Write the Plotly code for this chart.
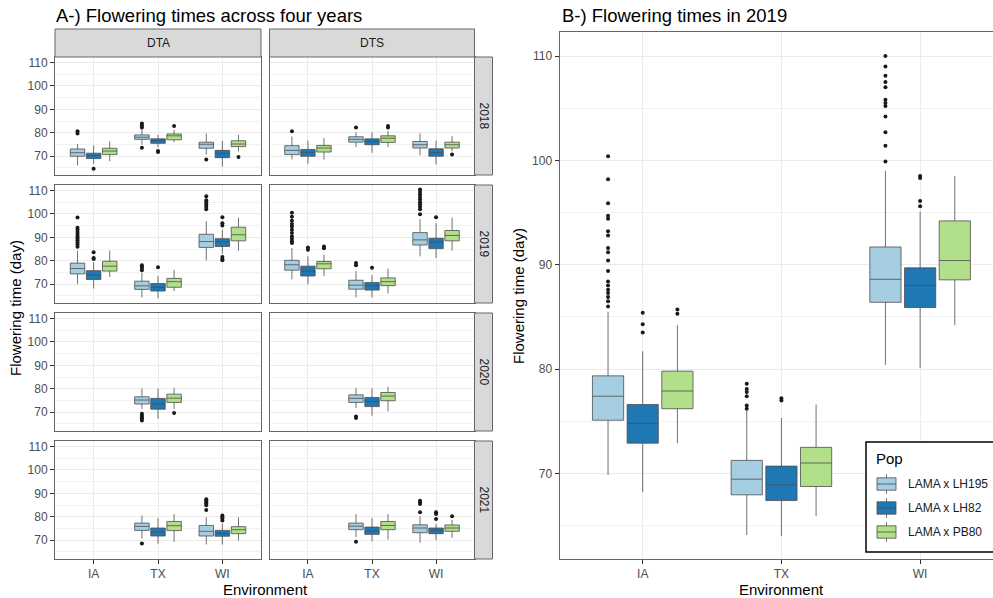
import plotly.graph_objects as go

# ---------------- data ----------------
ENVS = ["IA", "TX", "WI"]
POP_KEYS = ["LH195", "LH82", "PB80"]
POP_LABELS = ["LAMA x LH195", "LAMA x LH82", "LAMA x PB80"]
POP_COLORS = ["#A6CEE3", "#1F78B4", "#B2DF8A"]
TRAITS = ["DTA", "DTS"]
YEARS = ["2018", "2019", "2020", "2021"]
Y_TICKS = [70, 80, 90, 100, 110]

# rows: (env, pop, lower whisker, q1, median, q3, upper whisker, outliers)
DTA_2018 = [
    ("IA", "LH195", 66.1, 70.0, 71.5, 73.1, 75.2, [79.7, 80.7]),
    ("IA", "LH82", 66.8, 69.0, 70.3, 71.3, 74.6, [64.7]),
    ("IA", "PB80", 67.9, 70.7, 72.2, 73.4, 76.3, []),
    ("TX", "LH195", 74.9, 77.2, 78.1, 79.1, 81.4, [82.2, 83.1, 83.9, 73.6]),
    ("TX", "LH82", 73.8, 75.5, 76.6, 77.4, 79.1, [71.8, 72.2]),
    ("TX", "PB80", 76.0, 77.0, 78.7, 79.5, 81.2, [82.9]),
    ("WI", "LH195", 70.7, 73.4, 75.1, 76.0, 79.7, [68.6]),
    ("WI", "LH82", 65.6, 69.4, 71.3, 72.5, 76.5, []),
    ("WI", "PB80", 72.1, 74.1, 75.2, 76.6, 79.1, [69.7]),
]
DTS_2018 = [
    ("IA", "LH195", 68.6, 70.7, 72.5, 74.5, 78.4, [80.7]),
    ("IA", "LH82", 66.8, 70.0, 71.7, 72.9, 76.7, []),
    ("IA", "PB80", 68.6, 71.8, 73.5, 74.6, 77.7, []),
    ("TX", "LH195", 73.9, 76.0, 77.2, 78.3, 80.2, [82.2]),
    ("TX", "LH82", 71.5, 74.9, 76.3, 77.4, 80.2, []),
    ("TX", "PB80", 73.9, 75.9, 77.7, 78.7, 80.8, [82.2, 82.9]),
    ("WI", "LH195", 70.4, 73.5, 74.9, 76.3, 79.7, []),
    ("WI", "LH82", 66.5, 70.0, 71.5, 73.2, 76.6, []),
    ("WI", "PB80", 72.1, 73.5, 74.9, 76.0, 78.6, [70.7]),
]
DTA_2019 = [
    ("IA", "LH195", 70.0, 74.4, 76.7, 79.0, 84.3,
     [98.4, 94.1, 93.2, 92.3, 91.4, 90.5, 89.6, 88.7, 87.8, 86.9, 86.0]),
    ("IA", "LH82", 68.2, 72.0, 73.9, 75.8, 79.4, [83.6, 81.2, 80.8]),
    ("IA", "PB80", 73.1, 75.6, 77.7, 79.8, 84.3, []),
    ("TX", "LH195", 64.4, 67.8, 69.3, 71.3, 74.9, [78.1, 77.5, 76.9, 76.0]),
    ("TX", "LH82", 64.0, 67.1, 68.7, 70.3, 73.5, [77.2]),
    ("TX", "PB80", 67.1, 68.7, 71.1, 72.5, 76.0, []),
    ("WI", "LH195", 80.2, 85.7, 88.2, 91.3, 96.9, [107.5, 105.8, 104.8, 104.0, 103.0, 102.0]),
    ("WI", "LH82", 83.0, 86.1, 88.1, 89.4, 93.2, [98.6, 96.0, 95.0, 81.6, 80.8, 80.2]),
    ("WI", "PB80", 84.3, 88.5, 91.1, 94.3, 98.4, []),
]
DTS_2019 = [
    ("IA", "LH195", 72.1, 76.0, 78.3, 80.2, 85.4,
     [100.5, 98.8, 97.1, 95.7, 94.6, 93.2, 91.8, 90.4, 89.3, 88.3, 87.6]),
    ("IA", "LH82", 70.0, 73.5, 75.6, 77.7, 81.9, [85.7, 84.7]),
    ("IA", "PB80", 73.5, 76.6, 78.7, 79.7, 82.6, [86.1, 85.3]),
    ("TX", "LH195", 64.4, 67.9, 69.6, 71.7, 75.6, [79.1, 78.1]),
    ("TX", "LH82", 64.4, 67.5, 69.4, 70.7, 73.9, [77.0]),
    ("TX", "PB80", 66.1, 69.4, 71.1, 72.7, 76.6, []),
    ("WI", "LH195", 81.9, 86.7, 88.9, 92.0, 97.8,
     [110.4, 109.3, 108.3, 107.2, 106.1, 105.0, 104.0, 103.0, 102.0, 99.8]),
    ("WI", "LH82", 81.2, 85.2, 88.0, 89.6, 96.0, [98.6]),
    ("WI", "PB80", 84.3, 88.5, 90.8, 92.9, 98.4, []),
]
DTA_2020 = [
    ("TX", "LH195", 71.4, 73.5, 75.2, 76.6, 80.1, [69.3, 68.5, 67.9, 67.3, 66.5]),
    ("TX", "LH82", 67.2, 71.3, 73.5, 75.9, 80.1, []),
    ("TX", "PB80", 71.4, 74.2, 76.0, 77.7, 80.4, [69.7]),
]
DTS_2020 = [
    ("TX", "LH195", 71.8, 74.2, 75.9, 77.4, 80.4, [68.2, 67.5]),
    ("TX", "LH82", 68.6, 72.4, 74.6, 76.3, 80.2, []),
    ("TX", "PB80", 70.4, 74.9, 76.9, 78.4, 80.8, []),
]
DTA_2021 = [
    ("TX", "LH195", 70.7, 74.2, 75.9, 77.3, 80.5, [68.6]),
    ("TX", "LH82", 68.5, 71.8, 73.5, 75.2, 79.4, []),
    ("TX", "PB80", 69.3, 74.1, 76.2, 78.0, 81.2, []),
    ("WI", "LH195", 68.2, 71.8, 73.8, 76.3, 79.8, [87.5, 86.9, 86.2, 85.6, 84.9, 82.9]),
    ("WI", "LH82", 68.2, 71.7, 72.9, 74.2, 77.0, [80.5, 79.9, 79.4, 78.4]),
    ("WI", "PB80", 69.9, 72.8, 74.5, 75.8, 79.8, []),
]
DTS_2021 = [
    ("TX", "LH195", 71.4, 74.5, 76.0, 77.3, 81.2, [69.3]),
    ("TX", "LH82", 69.6, 72.5, 73.9, 75.6, 79.4, []),
    ("TX", "PB80", 70.3, 74.5, 76.3, 78.0, 81.2, []),
    ("WI", "LH195", 68.9, 73.2, 75.2, 76.6, 80.2, [86.8, 86.2, 85.4, 81.9]),
    ("WI", "LH82", 70.0, 72.8, 74.1, 75.2, 76.9, [81.9, 81.2, 79.0]),
    ("WI", "PB80", 71.0, 73.8, 75.2, 76.5, 78.7, [80.2]),
]
B_2019 = [
    ("IA", "LH195", 69.85, 75.1, 77.4, 79.35, 85.5,
     [100.4, 98.2, 95.9, 94.7, 94.4, 93.2, 92.8, 91.6, 91.2, 90.4, 89.4,
      88.4, 88.0, 87.6, 87.3, 86.9, 86.5, 86.0]),
    ("IA", "LH82", 68.2, 72.9, 74.8, 76.6, 81.7, [85.4, 84.3, 83.5]),
    ("IA", "PB80", 72.9, 76.2, 77.9, 79.8, 84.2, [85.7, 85.3]),
    ("TX", "LH195", 64.1, 67.95, 69.45, 71.25, 76.0, [78.6, 78.1, 77.8, 77.4, 76.5, 76.2]),
    ("TX", "LH82", 64.0, 67.4, 68.9, 70.7, 75.3, [77.2, 77.0]),
    ("TX", "PB80", 65.9, 68.75, 71.0, 72.5, 76.6, []),
    ("WI", "LH195", 80.4, 86.4, 88.6, 91.7, 99.0,
     [110.0, 109.0, 108.1, 107.5, 107.0, 105.8, 105.5, 105.2, 104.2, 102.7, 101.4, 99.9]),
    ("WI", "LH82", 80.1, 85.9, 88.0, 89.7, 95.1, [98.5, 98.3, 96.1, 95.6]),
    ("WI", "PB80", 84.2, 88.55, 90.4, 94.2, 98.5, []),
]

LEFT_PANELS = {
    ("DTA", "2018"): DTA_2018, ("DTS", "2018"): DTS_2018,
    ("DTA", "2019"): DTA_2019, ("DTS", "2019"): DTS_2019,
    ("DTA", "2020"): DTA_2020, ("DTS", "2020"): DTS_2020,
    ("DTA", "2021"): DTA_2021, ("DTS", "2021"): DTS_2021,
}

# ---------------- style / layout ----------------
W, H = 993, 598
FONT = "Liberation Sans, Arial, Helvetica, sans-serif"
GRID = "#EBEBEB"
BORDER = "#666666"
BOX_LINE = "#4D4D4D"
TICK_COL = "#4D4D4D"
DODGE = 0.25
BOX_W = 0.225
OFFSETS = [-DODGE, 0.0, DODGE]

LEFT_COLS = [(55, 261), (269.5, 474.5)]
LEFT_ROWS = [(57, 175), (185, 303), (313, 431), (441, 559)]
RIGHT_X = (559.5, 993)
RIGHT_Y = (32, 559)


def xdom(a, b):
    return [a / W, b / W]


def ydom(top, bottom):
    return [1 - bottom / H, 1 - top / H]


fig = go.Figure()
layout = {}


def axis_names(n):
    return ("xaxis" if n == 1 else f"xaxis{n}", "yaxis" if n == 1 else f"yaxis{n}",
            "x" if n == 1 else f"x{n}", "y" if n == 1 else f"y{n}")


def add_boxes(rows, n, marker_size):
    _, _, xr, yr = axis_names(n)
    for pi, pop in enumerate(POP_KEYS):
        sel = [r for r in rows if r[1] == pop]
        if not sel:
            continue
        xs = [ENVS.index(r[0]) + 1 + OFFSETS[pi] for r in sel]
        fig.add_trace(go.Box(
            x=xs, lowerfence=[r[2] for r in sel], q1=[r[3] for r in sel],
            median=[r[4] for r in sel], q3=[r[5] for r in sel],
            upperfence=[r[6] for r in sel], width=BOX_W,
            fillcolor=POP_COLORS[pi], line=dict(color=BOX_LINE, width=0.8),
            whiskerwidth=0, boxpoints=False, xaxis=xr, yaxis=yr,
            showlegend=False, hoverinfo="skip", name=POP_LABELS[pi]))
        ox, oy = [], []
        for r, x in zip(sel, xs):
            for v in r[7]:
                ox.append(x)
                oy.append(v)
        if ox:
            fig.add_trace(go.Scatter(
                x=ox, y=oy, mode="markers",
                marker=dict(size=marker_size, color="#1A1A1A", line=dict(width=0)),
                xaxis=xr, yaxis=yr, showlegend=False, hoverinfo="skip"))


def axis_pair(n, xd, yd, xrange, yrange, show_x, show_y, mirror_y=True):
    xa, ya, xr, yr = axis_names(n)
    layout[xa] = dict(
        domain=xd, range=xrange, anchor=yr, tickmode="array", tickvals=[1, 2, 3],
        ticktext=ENVS, showticklabels=show_x, ticks="outside" if show_x else "",
        ticklen=4, tickcolor="#333333", tickfont=dict(size=12, color=TICK_COL, family=FONT),
        showgrid=True, gridcolor=GRID, gridwidth=1, zeroline=False,
        showline=True, linecolor=BORDER, linewidth=1, mirror=True, fixedrange=True)
    layout[ya] = dict(
        domain=yd, range=yrange, anchor=xr, tickmode="array", tickvals=Y_TICKS,
        showticklabels=show_y, ticks="outside" if show_y else "",
        ticklen=4, tickcolor="#333333", tickfont=dict(size=12, color=TICK_COL, family=FONT),
        showgrid=True, gridcolor=GRID, gridwidth=1, zeroline=False,
        minor=dict(tickmode="array", tickvals=[65, 75, 85, 95, 105], showgrid=True,
                   gridcolor="#F2F2F2", gridwidth=0.6, ticks=""),
        showline=True, linecolor=BORDER, linewidth=1, mirror=mirror_y, fixedrange=True)


shapes = []
annotations = []

# left facets
for ri, year in enumerate(YEARS):
    for ci, trait in enumerate(TRAITS):
        n = 1 + ri * 2 + ci
        xd = xdom(*LEFT_COLS[ci])
        yd = ydom(*LEFT_ROWS[ri])
        axis_pair(n, xd, yd, [0.4, 3.6], [62.0, 112.3], ri == 3, ci == 0)
        add_boxes(LEFT_PANELS[(trait, year)], n, 4)

# top strips
for ci, trait in enumerate(TRAITS):
    x0, x1 = LEFT_COLS[ci]
    shapes.append(dict(type="rect", xref="paper", yref="paper",
                       x0=x0 / W, x1=x1 / W, y0=1 - 57 / H, y1=1 - 29 / H,
                       fillcolor="#D9D9D9", line=dict(color=BORDER, width=1)))
    annotations.append(dict(text=trait, x=(x0 + x1) / 2 / W, y=1 - 43 / H,
                            font=dict(size=12, color="#1A1A1A", family=FONT)))
# right strips
for ri, year in enumerate(YEARS):
    t, b = LEFT_ROWS[ri]
    shapes.append(dict(type="rect", xref="paper", yref="paper",
                       x0=474.5 / W, x1=492.5 / W, y0=1 - b / H, y1=1 - t / H,
                       fillcolor="#D9D9D9", line=dict(color=BORDER, width=1)))
    annotations.append(dict(text=year, x=483.5 / W, y=1 - (t + b) / 2 / H, textangle=90,
                            font=dict(size=12, color="#1A1A1A", family=FONT)))

# right panel
px_per_unit = 138.7
xr_end = 0.4 + (RIGHT_X[1] - RIGHT_X[0]) / px_per_unit
axis_pair(9, xdom(*RIGHT_X), ydom(*RIGHT_Y), [0.4, xr_end], [61.8, 112.3], True, True,
          mirror_y=False)
add_boxes(B_2019, 9, 4)

# titles
annotations += [
    dict(text="A-) Flowering times across four years", x=54 / W, y=1 - 16 / H,
         xanchor="left", font=dict(size=18.5, color="#000000", family=FONT)),
    dict(text="B-) Flowering times in 2019", x=560 / W, y=1 - 16 / H,
         xanchor="left", font=dict(size=18.5, color="#000000", family=FONT)),
    dict(text="Flowering time (day)", x=15 / W, y=1 - 308 / H, textangle=-90,
         font=dict(size=15, color="#000000", family=FONT)),
    dict(text="Flowering time (day)", x=518 / W, y=1 - 296 / H, textangle=-90,
         font=dict(size=15, color="#000000", family=FONT)),
    dict(text="Environment", x=265 / W, y=1 - 589 / H,
         font=dict(size=15, color="#000000", family=FONT)),
    dict(text="Environment", x=781 / W, y=1 - 589 / H,
         font=dict(size=15, color="#000000", family=FONT)),
]

# custom legend
shapes.append(dict(type="rect", xref="paper", yref="paper",
                   x0=866 / W, x1=1005 / W, y0=1 - 552 / H, y1=1 - 442 / H,
                   fillcolor="white", line=dict(color="#000000", width=1.5)))
annotations.append(dict(text="Pop", x=874 / W, y=1 - 458 / H, xanchor="left",
                        font=dict(size=15, color="#000000", family=FONT)))
for pi, label in enumerate(POP_LABELS):
    cy = 484 + 24 * pi
    kx0, kx1 = 877, 896
    kxm = (kx0 + kx1) / 2
    shapes.append(dict(type="line", xref="paper", yref="paper", x0=kxm / W, x1=kxm / W,
                       y0=1 - (cy + 10) / H, y1=1 - (cy - 10) / H,
                       line=dict(color=BOX_LINE, width=0.8)))
    shapes.append(dict(type="rect", xref="paper", yref="paper", x0=kx0 / W, x1=kx1 / W,
                       y0=1 - (cy + 6.2) / H, y1=1 - (cy - 6.2) / H,
                       fillcolor=POP_COLORS[pi], line=dict(color=BOX_LINE, width=0.8)))
    shapes.append(dict(type="line", xref="paper", yref="paper", x0=kx0 / W, x1=kx1 / W,
                       y0=1 - cy / H, y1=1 - cy / H, line=dict(color=BOX_LINE, width=0.8)))
    annotations.append(dict(text=label, x=906 / W, y=1 - cy / H, xanchor="left",
                            font=dict(size=12, color="#1A1A1A", family=FONT)))

for a in annotations:
    a.setdefault("xref", "paper")
    a.setdefault("yref", "paper")
    a.setdefault("showarrow", False)
    a.setdefault("xanchor", "center")
    a.setdefault("yanchor", "middle")

fig.update_layout(
    width=W, height=H, margin=dict(l=0, r=0, t=0, b=0),
    paper_bgcolor="white", plot_bgcolor="white", boxmode="overlay",
    showlegend=False, font=dict(family=FONT), shapes=shapes, annotations=annotations,
    **layout)

fig.write_html("out.html", config={"displayModeBar": False},
               post_script="document.body.style.margin='0';document.body.style.padding='0';")
